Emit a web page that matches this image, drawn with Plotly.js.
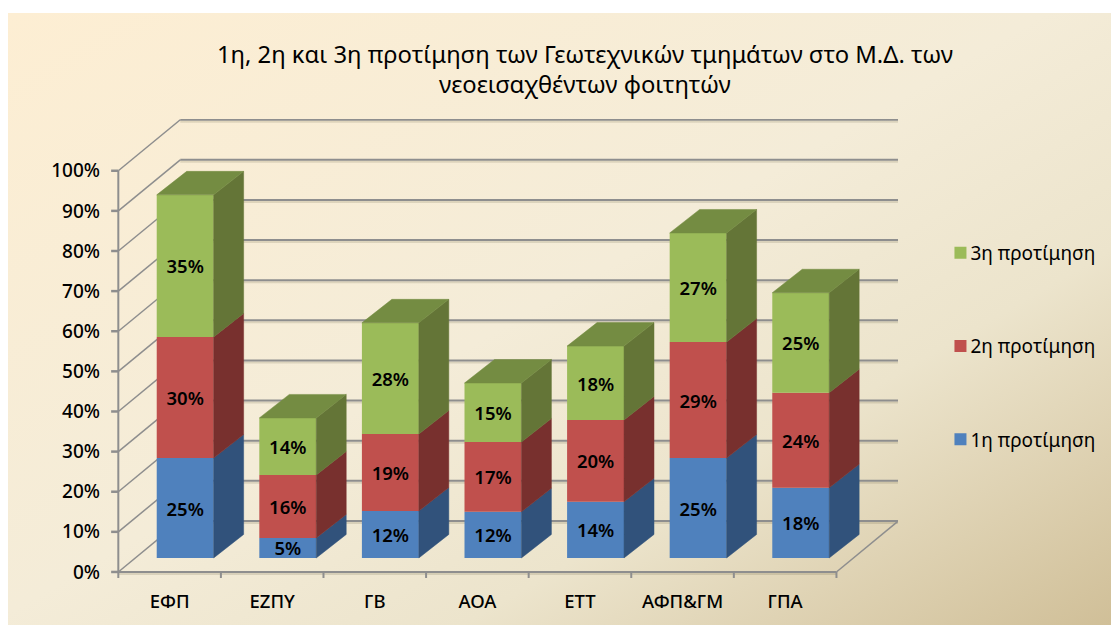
<!DOCTYPE html>
<html>
<head>
<meta charset="utf-8">
<script src="https://cdn.plot.ly/plotly-3.0.1.min.js"></script>
<style>
html,body{margin:0;padding:0;background:#fff;width:1111px;height:625px;overflow:hidden}
#bg{position:absolute;left:8px;top:13px;right:0;bottom:0;background:linear-gradient(150deg,#fdeed3 0%,#f4ecd8 48%,#ece4cc 70%,#d0bf98 100%)}
#chart{position:absolute;left:0;top:0;width:1111px;height:625px}
</style>
</head>
<body>
<div id="bg"></div>
<div id="chart"></div>
<script>
var categories = ['ΕΦΠ','ΕΖΠΥ','ΓΒ','ΑΟΑ','ΕΤΤ','ΑΦΠ&ΓΜ','ΓΠΑ'];
var pref1 = [24.9, 5.0, 11.7, 11.5, 14.0, 24.9, 17.5];
var pref2 = [30.2, 15.7, 19.2, 17.4, 20.4, 28.9, 23.7];
var pref3 = [35.4, 14.2, 27.7, 14.7, 18.4, 27.2, 24.9];
var seriesNames = ['1η προτίμηση','2η προτίμηση','3η προτίμηση'];
var yTicks = [0,10,20,30,40,50,60,70,80,90,100];
var titleText = '1η, 2η και 3η προτίμηση των Γεωτεχνικών τμημάτων στο Μ.Δ. των<br>νεοεισαχθέντων φοιτητών';

var frontCol = ['#4f81bd','#c0504d','#9bbb59'];
var sideCol  = ['#31527b','#78302e','#647537'];
var topCol   = '#748c42';
var wallDx = 0.604, wallDy = 12.72;     // depth of the floor/walls in axis units
var barDx = 0.292, barDy = 5.86;        // depth of a column in axis units
var barShift = 0.152, barLift = 3.49;   // column position inside the floor
var barW = 0.555;
var gridCol = '#8e8e8e', shadowCol = 'rgba(90,80,50,0.16)';
var fontFam = '"Noto Sans",sans-serif';

var all = [pref1,pref2,pref3];
var xc = categories.map(function(_,i){return i+0.5;});
var xb = xc.map(function(x){return x+barShift;});
var traces = [];
var cum = categories.map(function(){return barLift;});
var sides = [], tops = {x:[],y:[]};

all.forEach(function(vals,s){
  var base = cum.slice();
  traces.push({type:'bar',name:seriesNames[s],x:xb,y:vals,base:base,width:barW,
    marker:{color:frontCol[s],line:{width:0}},
    texttemplate:'%{y:.0f}%',textposition:'inside',insidetextanchor:'middle',constraintext:'none',textangle:0,
    insidetextfont:{family:fontFam,size:18.5,color:'#000',weight:600},
    legendgroup:'g'+s,legendrank:3-s,hoverinfo:'name+y'});
  var sx=[],sy=[];
  vals.forEach(function(v,i){
    var r=xb[i]+barW/2, b=base[i], t=b+v;
    sx.push(r,r+barDx,r+barDx,r,r,null);
    sy.push(b,b+barDy,t+barDy,t,b,null);
    cum[i]=t;
  });
  sides.push({type:'scatter',mode:'lines',x:sx,y:sy,fill:'toself',fillcolor:sideCol[s],line:{width:0.5,color:sideCol[s]},showlegend:false,hoverinfo:'skip'});
});
cum.forEach(function(t,i){
  var l=xb[i]-barW/2, r=xb[i]+barW/2;
  tops.x.push(l,r,r+barDx,l+barDx,l,null);
  tops.y.push(t,t,t+barDy,t+barDy,t,null);
});
traces = traces.concat(sides);
traces.push({type:'scatter',mode:'lines',x:tops.x,y:tops.y,fill:'toself',fillcolor:topCol,line:{width:0.5,color:topCol},showlegend:false,hoverinfo:'skip'});

var shapes=[];
function seg(x0,y0,x1,y1,c,w){shapes.push({type:'line',layer:'below',xref:'x',yref:'y',x0:x0,y0:y0,x1:x1,y1:y1,line:{color:c,width:w}});}
function grid(x0,y0,x1,y1){seg(x0,y0-0.5,x1,y1-0.5,shadowCol,2);seg(x0,y0,x1,y1,gridCol,2);}
var nCat = categories.length;
yTicks.forEach(function(v){
  if(v>0) grid(wallDx,v+wallDy,nCat+wallDx,v+wallDy);
  seg(0,v,wallDx,v+wallDy,gridCol,1.5);
  seg(-0.07,v,0,v,gridCol,2.5);
});
grid(wallDx,wallDy,nCat+wallDx,wallDy);
seg(nCat,0,nCat+wallDx,wallDy,gridCol,1.5);
seg(0,0,0,100,gridCol,2);
grid(0,0,nCat,0);
for(var k=0;k<=nCat;k++){seg(k,-1.5,k,0,gridCol,2);}

var layout = {
  width:1111,height:625,
  paper_bgcolor:'rgba(0,0,0,0)',plot_bgcolor:'rgba(0,0,0,0)',
  margin:{l:105.7,r:212.5,t:119,b:41,pad:0,autoexpand:false},
  barmode:'overlay',
  font:{family:fontFam,color:'#000'},
  title:{text:titleText,font:{family:fontFam,size:23.8,color:'#000'},x:0.5265,xanchor:'center',y:0.9,yanchor:'middle'},
  xaxis:{range:[-0.12,7.6],tickmode:'array',tickvals:xc,ticktext:categories,ticks:'',showgrid:false,zeroline:false,showline:false,automargin:false,
    ticklabelstandoff:4,tickfont:{size:18.5,color:'#000',weight:500}},
  yaxis:{range:[-3,112.9],tickmode:'array',tickvals:yTicks,ticktext:yTicks.map(function(v){return v+'%';}),ticks:'',showgrid:false,zeroline:false,showline:false,automargin:false,
    ticklabelstandoff:5,tickfont:{size:19,color:'#000',weight:500}},
  legend:{traceorder:'grouped',tracegroupgap:65.5,font:{size:19,color:'#000'},bgcolor:'rgba(0,0,0,0)',borderwidth:0,xanchor:'left',yanchor:'top'},
  shapes:shapes,
  showlegend:true
};
layout.legend.x = (941-105.7)/(1111-105.7-212.5);
layout.legend.y = 1-(234-119)/(625-119-41);
Plotly.newPlot('chart',traces,layout,{displayModeBar:false,staticPlot:true}).then(function(gd){
  gd.querySelectorAll('.legendtext').forEach(function(t){
    var nx = parseFloat(t.getAttribute('x'))-10;
    t.setAttribute('x',nx);
    t.querySelectorAll('tspan').forEach(function(s){ if(s.getAttribute('x')) s.setAttribute('x',nx); });
  });
});
</script>
</body>
</html>
